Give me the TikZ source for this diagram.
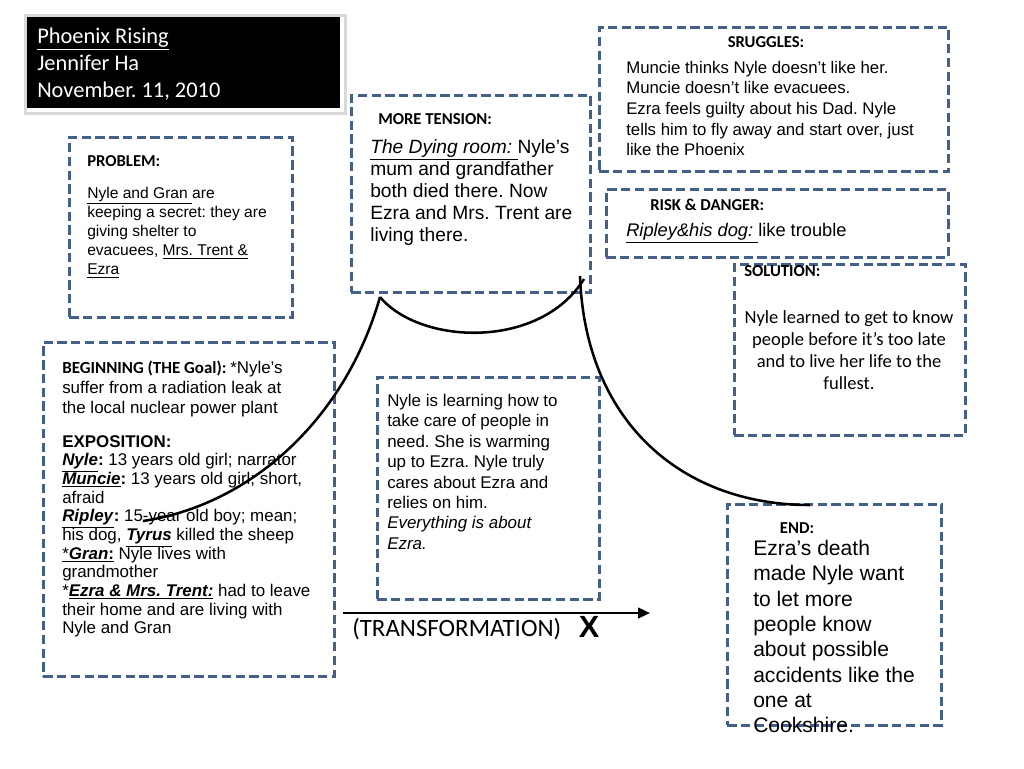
\documentclass[tikz,border=0pt]{standalone}
\usepackage{fontspec}
\setmainfont{Liberation Sans}
\newfontfamily\calfont{Carlito}
\usetikzlibrary{arrows.meta}
\definecolor{dashblue}{RGB}{66,96,138}
\newcommand{\fsz}[2]{\fontsize{#1}{#2}\selectfont}
\frenchspacing
\tikzset{
  dbox/.style 2 args={draw=dashblue, line width=2pt, dash pattern=on 7pt off 3.3pt,
    anchor=north west, inner sep=0pt, minimum width=#1*0.75pt, minimum height=#2*0.75pt},
  txt/.style={anchor=north west, inner sep=0pt, align=left},
  head/.style={anchor=north west, inner sep=0pt, font=\calfont\bfseries\fsz{12.5}{15}},
  arcline/.style={line width=1.9pt, black},
}
\begin{document}
\begin{tikzpicture}[x=0.75pt,y=-0.75pt]
\useasboundingbox (0,0) rectangle (1024,768);

\node[anchor=north west, inner sep=0pt, draw=gray!30, line width=2.5pt, minimum width=320*0.75pt, minimum height=98*0.75pt] (titleshadow) at (24,14) {};
\node[anchor=north west, inner sep=0pt, fill=black, minimum width=313*0.75pt, minimum height=91*0.75pt] (titlebox) at (27,17) {};
\node[txt, text=white, font=\calfont\fsz{16.8}{20.25}] (titletxt) at (37,28)
  {\underline{Phoenix Rising}\\Jennifer Ha\\November. 11, 2010};

\node[dbox={223}{180}] (probbox) at (68,136) {};
\node[head] (probhead) at (87,155) {PROBLEM:};
\node[txt, font=\fsz{11.7}{14.3}] (probtxt) at (87,187)
  {\underline{Nyle and Gran }are\\keeping a secret: they are\\giving shelter to\\evacuees, \underline{Mrs. Trent \&}\\\underline{Ezra}};

\node[dbox={239}{197}] (tensbox) at (350,94) {};
\node[head] (tenshead) at (378,113) {MORE TENSION:};
\node[txt, font=\fsz{14.4}{16.5}] (tenstxt) at (370,139)
  {\underline{\textit{The Dying room: }}Nyle’s\\mum and grandfather\\both died there. Now\\Ezra and Mrs. Trent are\\living there.};

\node[dbox={349}{144}] (strugbox) at (598,26) {};
\node[head, anchor=north] (strughead) at (766,36) {SRUGGLES:};
\node[txt, font=\fsz{12.6}{15.4}] (strugtxt) at (626,61)
  {Muncie thinks Nyle doesn’t like her.\\Muncie doesn’t like evacuees.\\Ezra feels guilty about his Dad. Nyle\\tells him to fly away and start over, just\\like the Phoenix};

\node[dbox={342}{68}] (riskbox) at (605,188) {};
\node[head] (riskhead) at (650,199) {RISK \& DANGER:};
\node[txt, font=\fsz{13.7}{16}] (risktxt) at (626,223)
  {\underline{\textit{Ripley\&his dog: }}like trouble};

\node[dbox={231}{171}] (solbox) at (733,263) {};
\node[head] (solhead) at (744,265) {SOLUTION:};
\node[txt, anchor=north, align=center, font=\calfont\fsz{13.9}{16.5}] (soltxt) at (849,310)
  {Nyle learned to get to know\\people before it’s too late\\and to live her life to the\\fullest.};

\node[dbox={291}{334}] (begbox) at (42,341) {};
\node[txt, font=\fsz{12.7}{15}] (begtxt) at (62,361)
  {{\calfont\bfseries BEGINNING (THE Goal): }*Nyle’s\\suffer from a radiation leak at\\the local nuclear power plant};
\node[txt, font=\fsz{12.7}{14}] (expotxt) at (62,435)
  {\textbf{EXPOSITION:}\\
   \underline{\textbf{\textit{Nyle}}}\textbf{:} 13 years old girl; narrator\\
   \underline{\textbf{\textit{Muncie}}}\textbf{:} 13 years old girl; short,\\
   afraid\\
   \underline{\textbf{\textit{Ripley}}}\textbf{:} 15-year old boy; mean;\\
   his dog, \underline{\textbf{\textit{Tyrus}}} killed the sheep\\
   \underline{*\textbf{\textit{Gran}}\textbf{:}} Nyle lives with\\
   grandmother\\
   *\underline{\textbf{\textit{Ezra \& Mrs. Trent:}}} had to leave\\
   their home and are living with\\
   Nyle and Gran};

\node[dbox={222}{222}] (midbox) at (376,376) {};
\node[txt, font=\fsz{12.7}{15.3}] (midtxt) at (387,394)
  {Nyle is learning how to\\take care of people in\\need. She is warming\\up to Ezra. Nyle truly\\cares about Ezra and\\relies on him.\\\textit{Everything is about}\\\textit{Ezra.}};

\node[dbox={214}{221}] (endbox) at (726,503) {};
\node[head, anchor=north] (endhead) at (797,522) {END:};
\node[txt, font=\fsz{15.8}{19}] (endtxt) at (753,540)
  {Ezra’s death\\made Nyle want\\to let more\\people know\\about possible\\accidents like the\\one at\\Cookshire.};

\coordinate (riseA) at (143,521);
\coordinate (peakL) at (380,297);
\coordinate (peakR) at (584,279);
\coordinate (fallS) at (580,276);
\coordinate (fallE) at (810,505);
\draw[arcline] (riseA) .. controls (250,505) and (345,420) .. (peakL);
\draw[arcline] (peakL) .. controls (420,345) and (540,350) .. (peakR);
\draw[arcline] (fallS) .. controls (585,420) and (680,505) .. (fallE);

\coordinate (transS) at (343,613);
\coordinate (transE) at (650,613);
\draw[line width=1.8pt, -{Triangle[length=9pt,width=8pt]}] (transS) -- (transE);
\node[anchor=west, inner sep=0pt, font=\calfont\fsz{18.7}{20}] (translbl) at (352,629) {(TRANSFORMATION)};
\node[inner sep=0pt, font=\bfseries\fsz{23}{23}] (xmark) at (589,627) {X};
\end{tikzpicture}
\end{document}
